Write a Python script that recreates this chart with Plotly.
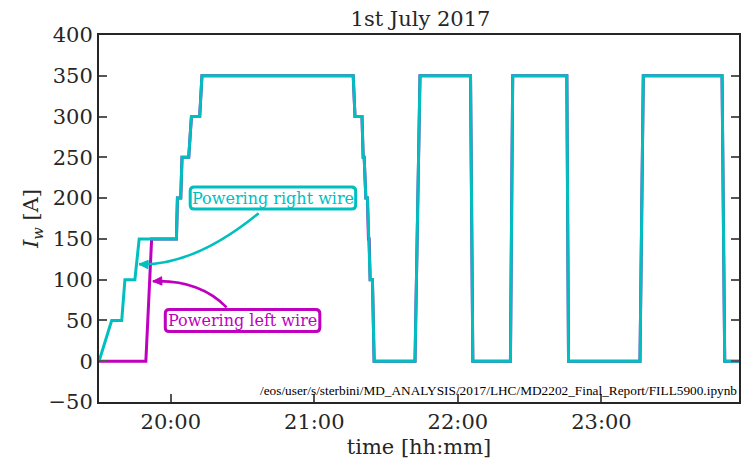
import pandas as pd
import plotly.graph_objects as go

DAY = "2017-07-01 "

# Wire currents [A] versus time for fill 5900
right_times = ["19:30:00", "19:35:18", "19:39:30", "19:40:50", "19:45:00", "19:46:48",
               "20:02:22", "20:02:47", "20:04:10", "20:04:42", "20:07:30", "20:08:38",
               "20:12:05", "20:13:02", "21:16:15", "21:17:00", "21:19:55", "21:20:25",
               "21:20:50", "21:21:32", "21:22:12", "21:22:37", "21:22:55", "21:23:20",
               "21:24:17", "21:25:00", "21:42:05", "21:44:10", "22:05:17", "22:06:15",
               "22:21:58", "22:22:55", "22:45:32", "22:46:15", "23:16:07", "23:17:30",
               "23:50:25", "23:51:32", "23:58:00"]
right_current = [0, 50, 50, 100, 100, 150,
                 150, 200, 200, 250, 250, 300,
                 300, 350, 350, 300, 300, 250,
                 250, 200, 200, 150, 150, 100,
                 100, 0, 0, 350, 350, 0,
                 0, 350, 350, 0, 0, 350,
                 350, 0, 0]

left_times = ["19:30:00", "19:49:35", "19:52:00"] + right_times[6:]
left_current = [0, 0, 150] + right_current[6:]

x_range = ["19:30:00", "23:57:30"]
y_range = [-50, 400]
y_ticks = [-50, 0, 50, 100, 150, 200, 250, 300, 350, 400]

# Annotation anchors: (time, current)
right_label_pos = ("20:42:42", 200)
left_label_pos = ("20:30:00", 50)
right_arrow_tip = ("19:46:45", 119)
left_arrow_tip = ("19:52:30", 98)

CYAN = "#00BFBF"
MAGENTA = "#BF00BF"
TEXT = "#262626"
SERIF = "DejaVu Serif"
FS = 21

# plot-area size in pixels, used to express pixel offsets in paper units
W_PLOT, H_PLOT = 642, 367


def ts(hms):
    return DAY + hms


t0 = pd.Timestamp(ts(x_range[0]))
t1 = pd.Timestamp(ts(x_range[1]))


def to_paper(hms, val):
    xp = (pd.Timestamp(ts(hms)) - t0) / (t1 - t0)
    yp = (val - y_range[0]) / (y_range[1] - y_range[0])
    return xp, yp


def shift(p, dx, dy):
    """Move a paper point by dx, dy pixels (dy positive = up)."""
    return p[0] + dx / W_PLOT, p[1] + dy / H_PLOT


fig = go.Figure()
fig.add_trace(go.Scatter(x=[ts(t) for t in left_times], y=left_current, mode="lines",
                         line=dict(color=MAGENTA, width=3), name="left wire"))
fig.add_trace(go.Scatter(x=[ts(t) for t in right_times], y=right_current, mode="lines",
                         line=dict(color=CYAN, width=3), name="right wire"))


def rounded_box(center, half_w, half_h, r, color):
    cx, cy = center
    x0, x1 = cx - half_w, cx + half_w
    y0, y1 = cy - half_h, cy + half_h
    pts = []

    def P(x, y):
        return f"{shift(center, x - cx, y - cy)[0]},{shift(center, x - cx, y - cy)[1]}"

    path = (f"M {P(x0 + r, y1)} L {P(x1 - r, y1)} Q {P(x1, y1)} {P(x1, y1 - r)} "
            f"L {P(x1, y0 + r)} Q {P(x1, y0)} {P(x1 - r, y0)} "
            f"L {P(x0 + r, y0)} Q {P(x0, y0)} {P(x0, y0 + r)} "
            f"L {P(x0, y1 - r)} Q {P(x0, y1)} {P(x0 + r, y1)} Z")
    fig.add_shape(type="path", path=path, xref="paper", yref="paper",
                  line=dict(color=color, width=3), fillcolor="white", layer="above")


def connector(tail_px, ctrl_px, tip, color):
    """Curved arrow from a label box to a point on a trace."""
    tip_p = to_paper(*tip)
    # tail / control given as pixel offsets from the tip
    tail = shift(tip_p, *tail_px)
    ctrl = shift(tip_p, *ctrl_px)
    fig.add_shape(type="path", xref="paper", yref="paper", layer="above",
                  path=f"M {tail[0]},{tail[1]} Q {ctrl[0]},{ctrl[1]} {tip_p[0]},{tip_p[1]}",
                  line=dict(color=color, width=2.6))
    # arrow head along the final tangent
    vx, vy = -ctrl_px[0], -ctrl_px[1]
    n = (vx ** 2 + vy ** 2) ** 0.5
    ux, uy = vx / n, vy / n
    L, hw = 9, 4.2
    bx, by = -ux * L, -uy * L
    a = shift(tip_p, bx - uy * hw, by + ux * hw)
    b = shift(tip_p, bx + uy * hw, by - ux * hw)
    fig.add_shape(type="path", xref="paper", yref="paper", layer="above",
                  path=f"M {tip_p[0]},{tip_p[1]} L {a[0]},{a[1]} L {b[0]},{b[1]} Z",
                  fillcolor=color, line=dict(color=color, width=1))


connector((120, 51), (55, -2), right_arrow_tip, CYAN)
connector((74, -26), (46, 2), left_arrow_tip, MAGENTA)

for pos, label, color, hw in ((right_label_pos, "Powering right wire", CYAN, 83),
                              (left_label_pos, "Powering left wire", MAGENTA, 77.5)):
    rounded_box(to_paper(*pos), hw, 11, 4, color)
    fig.add_annotation(x=ts(pos[0]), y=pos[1], text=label, showarrow=False,
                       font=dict(family=SERIF, size=16, color=color))

fig.add_annotation(xref="paper", yref="paper", x=1, y=0.03, xanchor="right",
                   yanchor="middle", showarrow=False,
                   text="/eos/user/s/sterbini/MD_ANALYSIS/2017/LHC/MD2202_Final_Report/FILL5900.ipynb",
                   font=dict(family="Liberation Serif", size=13.3, color="black"))

fig.update_layout(
    width=741, height=462,
    margin=dict(l=99, r=0, t=35, b=60),
    paper_bgcolor="white", plot_bgcolor="white",
    showlegend=False,
    font=dict(family=SERIF, size=FS, color=TEXT),
    title=dict(text="1st July 2017", x=(99 + 742) / 2 / 741, xanchor="center",
               y=1 - 19 / 462, yanchor="middle", yref="container",
               font=dict(family=SERIF, size=FS, color=TEXT)),
)
fig.update_xaxes(
    type="date", range=[ts(x_range[0]), ts(x_range[1])],
    tick0=ts("20:00:00"), dtick=3600000, tickformat="%H:%M",
    showgrid=False, zeroline=False,
    showline=True, linecolor=TEXT, linewidth=2, mirror=True,
    ticks="inside", ticklen=8, tickwidth=1.5, tickcolor="#555555",
    tickfont=dict(family=SERIF, size=FS, color=TEXT),
    title=dict(text="time [hh:mm]", standoff=6, font=dict(family=SERIF, size=FS, color=TEXT)),
)
fig.update_yaxes(
    range=y_range, tickvals=y_ticks,
    showgrid=False, zeroline=False,
    showline=True, linecolor=TEXT, linewidth=2, mirror="ticks",
    ticks="inside", ticklen=8, tickwidth=1.5, tickcolor="#555555",
    tickfont=dict(family=SERIF, size=FS, color=TEXT),
    title=dict(text="<i>I<sub>w</sub></i> [A]", standoff=4,
               font=dict(family=SERIF, size=FS, color=TEXT)),
)

fig.write_html("out.html")
